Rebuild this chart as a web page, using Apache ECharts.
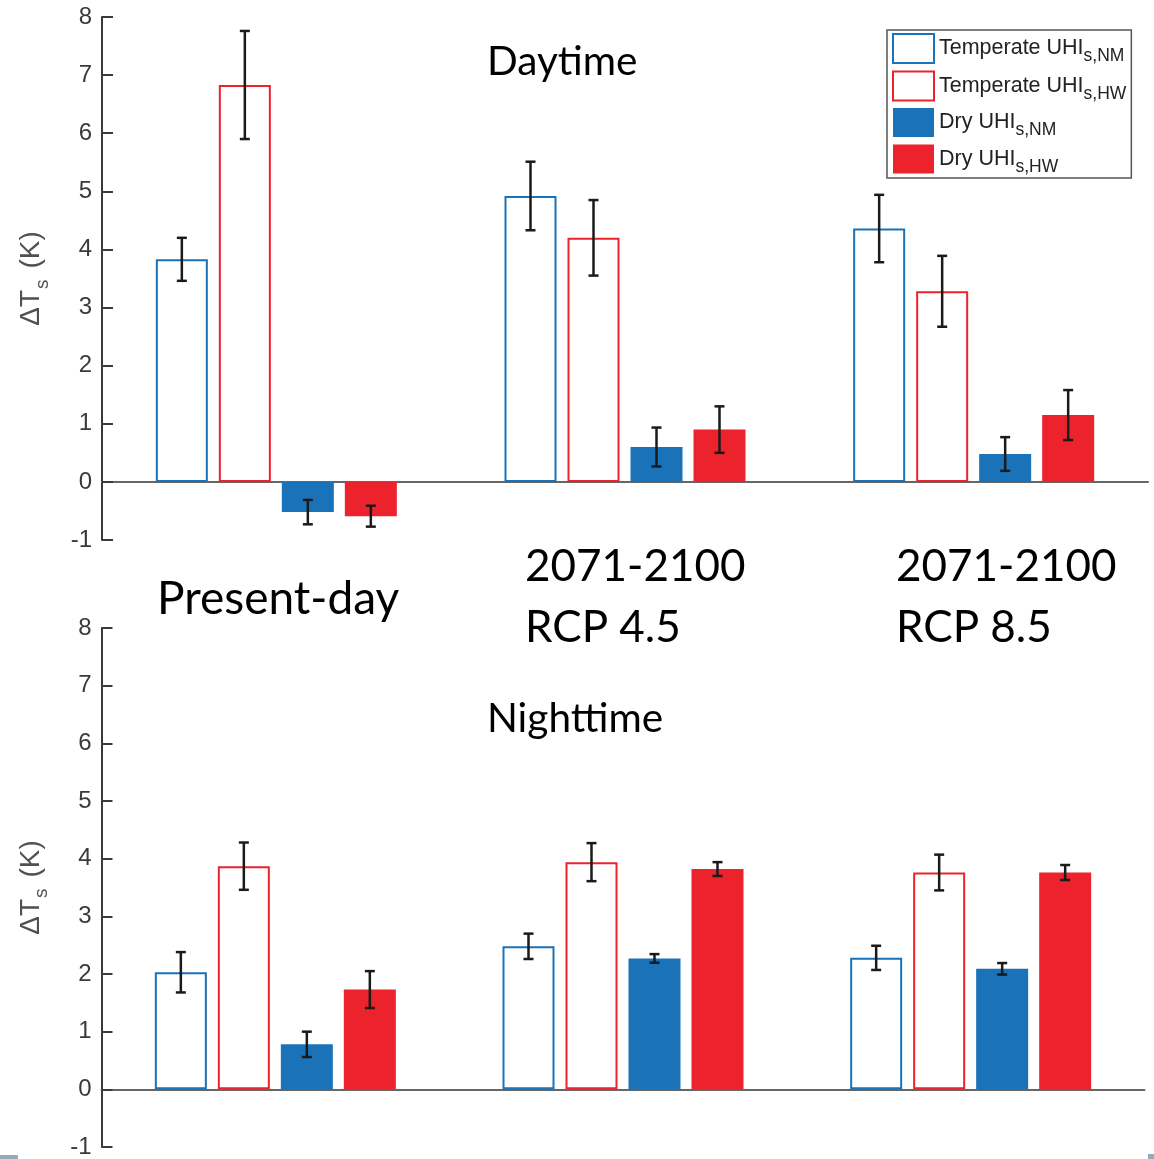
<!DOCTYPE html>
<html><head><meta charset="utf-8">
<script src="https://cdn.jsdelivr.net/npm/echarts@6/dist/echarts.min.js"></script>
<style>html,body{margin:0;padding:0;background:#fff}#c{width:1154px;height:1159px}</style>
</head><body><div id="c"></div>
<script>
const categories = ['Present-day', '2071-2100 RCP 4.5', '2071-2100 RCP 8.5'];
const seriesNames = ['Temperate UHI s,NM', 'Temperate UHI s,HW', 'Dry UHI s,NM', 'Dry UHI s,HW'];
const yTicks = [-1, 0, 1, 2, 3, 4, 5, 6, 7, 8];

// Daytime values and error half-widths
const dayTempNM = [3.83, 4.92, 4.36];
const dayTempNMErr = [0.37, 0.59, 0.58];
const dayTempHW = [6.83, 4.20, 3.28];
const dayTempHWErr = [0.93, 0.65, 0.61];
const dayDryNM = [-0.52, 0.60, 0.48];
const dayDryNMErr = [0.21, 0.335, 0.29];
const dayDryHW = [-0.59, 0.90, 1.15];
const dayDryHWErr = [0.18, 0.40, 0.43];

// Nighttime values and error half-widths
const nightTempNM = [2.03, 2.48, 2.28];
const nightTempNMErr = [0.35, 0.22, 0.21];
const nightTempHW = [3.87, 3.94, 3.76];
const nightTempHWErr = [0.41, 0.33, 0.31];
const nightDryNM = [0.78, 2.27, 2.09];
const nightDryNMErr = [0.22, 0.075, 0.10];
const nightDryHW = [1.73, 3.82, 3.76];
const nightDryHWErr = [0.32, 0.12, 0.13];

const BLUE = '#1a72b8', RED = '#ec222d';
const BAR_W = 52, BAR_SPACE = 63;
const styles = [
  {color: '#ffffff', borderColor: BLUE, borderWidth: 2},
  {color: '#ffffff', borderColor: RED, borderWidth: 2},
  {color: BLUE, borderColor: BLUE, borderWidth: 0},
  {color: RED, borderColor: RED, borderWidth: 0}
];
const panels = [
  {vals: [dayTempNM, dayTempHW, dayDryNM, dayDryHW], errs: [dayTempNMErr, dayTempHWErr, dayDryNMErr, dayDryHWErr]},
  {vals: [nightTempNM, nightTempHW, nightDryNM, nightDryHW], errs: [nightTempNMErr, nightTempHWErr, nightDryNMErr, nightDryHWErr]}
];

const AX = '#3a3a3a';
function yAxisCfg(idx) {
  return {
    type: 'value', gridIndex: idx, min: -1, max: 8, interval: 1,
    name: '{m|ΔT}{s|s}{m| (K)}', nameLocation: 'middle', nameGap: 50, nameRotate: 90,
    nameTextStyle: {fontFamily: 'Liberation Sans', fontSize: 28, color: '#505050',
      rich: {
        m: {fontFamily: 'Liberation Sans', fontSize: 28, color: '#505050'},
        s: {fontFamily: 'Liberation Sans', fontSize: 19, color: '#505050', padding: [22, 3, 0, 1]}
      }},
    axisLine: {show: true, lineStyle: {color: AX, width: 2}},
    axisTick: {show: true, inside: true, length: 11, lineStyle: {color: AX, width: 2}},
    axisLabel: {fontFamily: 'Liberation Sans', fontSize: 24, color: '#3a3a3a', margin: 10,
      formatter: v => yTicks.includes(v) ? String(v) : ''},
    splitLine: {show: false}
  };
}
function xAxisCfg(idx) {
  return {
    type: 'category', gridIndex: idx, data: categories,
    axisLine: {show: true, onZero: true, lineStyle: {color: '#666', width: 2}},
    axisTick: {show: false}, axisLabel: {show: false}
  };
}

const series = [];
panels.forEach((p, pi) => {
  p.vals.forEach((v, k) => {
    series.push({
      name: seriesNames[k], type: 'bar', xAxisIndex: pi, yAxisIndex: pi,
      barWidth: BAR_W, barGap: ((BAR_SPACE - BAR_W) / BAR_W * 100) + '%',
      itemStyle: styles[k], data: v, z: 2
    });
  });
  const errData = [];
  p.vals.forEach((v, k) => v.forEach((val, i) => errData.push([i, k, val - p.errs[k][i], val + p.errs[k][i]])));
  series.push({
    type: 'custom', xAxisIndex: pi, yAxisIndex: pi, z: 5, silent: true,
    data: errData,
    renderItem: function (params, api) {
      const cat = api.value(0), k = api.value(1);
      const off = (k - 1.5) * BAR_SPACE;
      const top = api.coord([cat, api.value(3)]);
      const bot = api.coord([cat, api.value(2)]);
      const x = top[0] + off, cw = 5;
      const st = {stroke: '#1a1a1a', lineWidth: 2.5};
      return {type: 'group', children: [
        {type: 'line', shape: {x1: x, y1: top[1], x2: x, y2: bot[1]}, style: st},
        {type: 'line', shape: {x1: x - cw, y1: top[1], x2: x + cw, y2: top[1]}, style: st},
        {type: 'line', shape: {x1: x - cw, y1: bot[1], x2: x + cw, y2: bot[1]}, style: st}
      ]};
    }
  });
});

const legendRich = {
  m: {fontFamily: 'Liberation Sans', fontSize: 21.5, color: '#222'},
  s: {fontFamily: 'Liberation Sans', fontSize: 17.5, color: '#222', padding: [16, 0, 0, 0]}
};
function txt(text, x, y, size) {
  return {type: 'text', x: x, y: y, style: {text: text, fontFamily: 'Lato', fontSize: size, fill: '#000', align: 'left', verticalAlign: 'middle'}};
}

const option = {
  animation: false,
  backgroundColor: '#fff',
  grid: [
    {left: 102, top: 17, width: 1046, height: 523},
    {left: 101.5, top: 628, width: 1043, height: 521}
  ],
  xAxis: [xAxisCfg(0), xAxisCfg(1)],
  yAxis: [yAxisCfg(0), yAxisCfg(1)],
  legend: {
    data: seriesNames, orient: 'vertical', left: 887, top: 30,
    itemWidth: 41, itemHeight: 29, itemGap: 5,
    padding: [3, 5, 2, 5], borderColor: '#555', borderWidth: 1.5, backgroundColor: '#fff',
    icon: 'rect',
    formatter: n => { const i = n.lastIndexOf(' '); return '{m|' + n.slice(0, i) + '}{s|' + n.slice(i + 1) + '}'; },
    textStyle: {rich: legendRich}
  },
  graphic: [
    txt('Daytime', 487, 62, 40.5),
    txt('Present-day', 157, 599, 46),
    txt('2071-2100', 525, 567, 44),
    txt('RCP 4.5', 525, 628, 44),
    txt('2071-2100', 896, 567, 44),
    txt('RCP 8.5', 896, 628, 44),
    txt('Nighttime', 487, 719, 40.5),
    {type: 'rect', left: 0, top: 1155, shape: {width: 18, height: 4}, style: {fill: '#93abbb'}},
    {type: 'rect', left: 1148, top: 1154, shape: {width: 6, height: 5}, style: {fill: '#93abbb'}}
  ],
  series: series
};
const chart = echarts.init(document.getElementById('c'), null, {renderer: 'canvas'});
chart.setOption(option);
</script></body></html>
